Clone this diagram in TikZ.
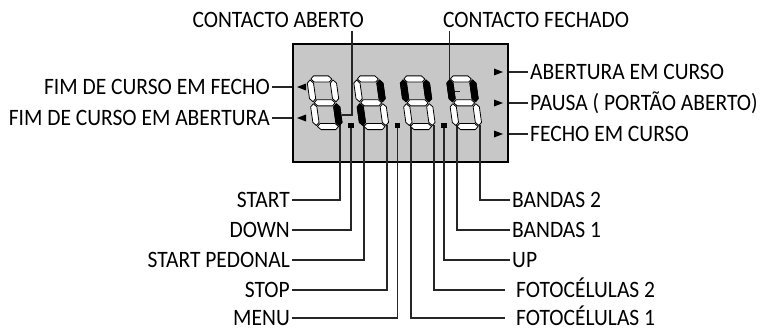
\documentclass[tikz,border=0pt]{standalone}
\usepackage{fontspec}
\setmainfont{Carlito}[FakeStretch=0.915]
\usetikzlibrary{calc}

% one segment of a digit, in digit coordinates (v up)
\newcommand{\hseg}[4]{\draw[#4] ({#1+1},#3) -- ({#1+4.1},{#3+3.1}) -- ({#2-4.1},{#3+3.1}) -- ({#2-1},#3) -- ({#2-4.1},{#3-3.1}) -- ({#1+4.1},{#3-3.1}) -- cycle;}
\newcommand{\vseg}[4]{\draw[#4] (#1,{#2+1}) -- ({#1+3.1},{#2+4.1}) -- ({#1+3.1},{#3-4.1}) -- (#1,{#3-1}) -- ({#1-3.1},{#3-4.1}) -- ({#1-3.1},{#2+4.1}) -- cycle;}
\newcommand{\sega}[1]{\hseg{0}{23}{47.5}{#1}}
\newcommand{\segb}[1]{\vseg{23}{23.75}{47.5}{#1}}
\newcommand{\segc}[1]{\vseg{23}{0}{23.75}{#1}}
\newcommand{\segd}[1]{\hseg{0}{23}{0}{#1}}
\newcommand{\sege}[1]{\vseg{0}{0}{23.75}{#1}}
\newcommand{\segf}[1]{\vseg{0}{23.75}{47.5}{#1}}
\newcommand{\segg}[1]{\hseg{0}{23}{23.75}{#1}}

\begin{document}
\begin{tikzpicture}[
    x=1pt, y=-1pt,
    wire/.style={draw=black!85, line width=1.1pt},
    panel/.style={draw=black, line width=2.4pt, fill=black!22, inner sep=0pt},
    offseg/.style={draw=black, line width=0.8pt, fill=white, line join=round},
    onseg/.style={draw=black, line width=0.8pt, fill=black, line join=round},
    dpoint/.style={rectangle, fill=black, inner sep=0pt, minimum size=5.5pt},
    lbl/.style={font=\fontsize{23.5}{24}\selectfont, inner xsep=2pt, inner ysep=0pt, text height=15pt, text depth=0pt}
]
    \useasboundingbox (0,0) rectangle (763,329);

    % Display panel
    \node[panel, minimum width=215pt, minimum height=118pt] (panel) at (400.5,103) {};

    % Attachment points on the segments
    \coordinate (pStart) at (340,125);
    \coordinate (pDown) at (351,125);
    \coordinate (pPedonal) at (364,125);
    \coordinate (pStop) at (387,125);
    \coordinate (pMenu) at (397.5,125);
    \coordinate (pFoto1) at (411,125);
    \coordinate (pFoto2) at (434,125);
    \coordinate (pUp) at (444,125);
    \coordinate (pBand1) at (457,125);
    \coordinate (pBand2) at (480,125);
    \coordinate (kAb) at (352,115);
    \coordinate (pAb) at (342,115);
    \coordinate (kFe) at (449.5,91.5);
    \coordinate (pFe) at (460,91.5);

    % Labels
    \node[lbl, anchor=south east] (lContAb) at (366,28) {CONTACTO ABERTO};
    \node[lbl, anchor=south west] (lContFe) at (441,28) {CONTACTO FECHADO};
    \node[lbl, anchor=east] (lFecho) at (272,87) {FIM DE CURSO EM FECHO};
    \node[lbl, anchor=east] (lAbertura) at (272,118) {FIM DE CURSO EM ABERTURA};
    \node[lbl, anchor=west] (lAbCurso) at (528,72) {ABERTURA EM CURSO};
    \node[lbl, anchor=west] (lPausa) at (528,103) {PAUSA ( PORTÃO ABERTO)};
    \node[lbl, anchor=west] (lFeCurso) at (528,134) {FECHO EM CURSO};

    \node[lbl, anchor=east] (lStart) at (292,200) {START};
    \node[lbl, anchor=east] (lDown) at (292,230) {DOWN};
    \node[lbl, anchor=east] (lPedonal) at (292,260) {START PEDONAL};
    \node[lbl, anchor=east] (lStop) at (292,290) {STOP};
    \node[lbl, anchor=east] (lMenu) at (292,318) {MENU};
    \node[lbl, anchor=west] (lBand2) at (510,200) {BANDAS 2};
    \node[lbl, anchor=west] (lBand1) at (510,230) {BANDAS 1};
    \node[lbl, anchor=west] (lUp) at (510,260) {UP};
    \node[lbl, anchor=west] (lFoto2) at (514,290) {FOTOCÉLULAS 2};
    \node[lbl, anchor=west] (lFoto1) at (514,318) {FOTOCÉLULAS 1};

    % Side connectors
    \draw[wire] (lFecho.east) -- (lFecho.east -| panel.west);
    \draw[wire] (lAbertura.east) -- (lAbertura.east -| panel.west);
    \draw[wire] (lAbCurso.west) -- (lAbCurso.west -| panel.east);
    \draw[wire] (lPausa.west) -- (lPausa.west -| panel.east);
    \draw[wire] (lFeCurso.west) -- (lFeCurso.west -| panel.east);

    % Top connectors
    \draw[wire, shorten <=3pt] (lContAb.south -| kAb) -- (kAb) -- (pAb);
    \draw[wire, shorten <=3pt] (lContFe.south -| kFe) -- (kFe) -- (pFe);

    % Bottom connectors
    \foreach \n in {Start, Down, Pedonal, Stop, Menu}
        \draw[wire] (l\n.east) -| (p\n);
    \foreach \n in {Band2, Band1, Up}
        \draw[wire] (l\n.west) -| (p\n);
    \foreach \n in {Foto2, Foto1}
        \draw[wire, shorten <=9pt] (l\n.west) -| (p\n);

    % Four seven-segment digits
    \foreach \i in {0,...,3} {
        \begin{scope}[shift={(316.5+46.5*\i,126.5)}, yscale=-1, xslant=0.14]
            \foreach \s in {a,...,g} { \csname seg\s\endcsname{offseg} }
        \end{scope}
    }
    \foreach \i/\s in {0/c, 1/b, 1/e, 2/b, 2/f, 3/b, 3/f} {
        \begin{scope}[shift={(316.5+46.5*\i,126.5)}, yscale=-1, xslant=0.14]
            \csname seg\s\endcsname{onseg}
        \end{scope}
    }

    % Decimal points
    \foreach \i in {0,1,2}
        \node[dpoint] (dp\i) at (351+46.5*\i,125.5) {};

    % Direction marks
    \foreach \y in {87,118}
        \fill (297,\y) -- (306,\y-3.5) -- (306,\y+3.5) -- cycle;
    \foreach \y in {72,103,134}
        \fill (503,\y) -- (494,\y-3.5) -- (494,\y+3.5) -- cycle;

\end{tikzpicture}
\end{document}
